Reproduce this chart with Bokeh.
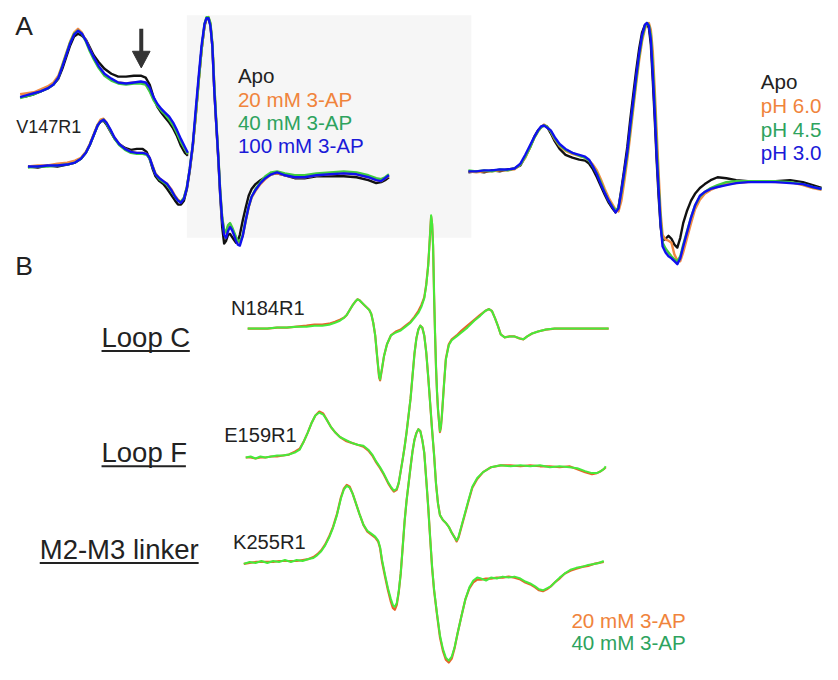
from bokeh.plotting import figure
from bokeh.models import Range1d
from bokeh.embed import file_html
from bokeh.resources import INLINE
from bokeh.core.properties import value

FONT = value("Liberation Sans")

# ---------------- Panel A, left: upper spectrum (unlabelled) ----------------
A1_x = [20, 27, 34, 41, 48, 54, 59, 63, 67, 71, 75, 79, 83, 87, 91, 95, 100, 106, 113, 120,
        128, 136, 143, 148, 152, 156, 160, 164, 168, 172, 176, 180, 184, 188, 191]
A1_black = [99, 98, 96, 93, 90, 86, 80, 70, 58, 46, 37, 34, 36, 40, 48, 56, 63, 70, 75, 78,
            78, 77, 77, 79, 86, 99, 109, 115, 120, 125, 131, 139, 149, 156, 159]
A1_orange = [96, 95, 94, 91, 88, 84, 77, 66, 54, 42, 33, 29, 33, 41, 50, 59, 68, 76, 81, 84,
             85, 84, 84, 86, 92, 101, 107, 112, 116, 121, 127, 135, 144, 152, 157]
A1_green = [100, 98, 96, 93, 90, 86, 79, 67, 55, 43, 34, 31, 34, 42, 52, 60, 69, 77, 82, 85,
            86, 85, 85, 86, 93, 102, 108, 113, 117, 122, 128, 136, 145, 152, 157]
A1_blue = [99, 97, 95, 93, 90, 86, 79, 68, 56, 44, 35, 31, 34, 41, 50, 58, 67, 75, 80, 84,
           85, 84, 83, 84, 89, 99, 106, 111, 115, 119, 125, 133, 142, 150, 156]

# ---------------- Panel A, left: V147R1 ----------------
A2_x = [28, 38, 48, 58, 68, 76, 82, 87, 91, 95, 99, 102, 105, 108, 112, 116, 121, 127, 133, 139,
        145, 149, 152, 155, 158, 162, 166, 170, 174, 178, 181, 184, 187, 190, 193, 196, 199, 202, 205, 208,
        210, 212, 214, 216, 218, 220, 222, 224, 226, 228, 230, 232, 234, 236, 238, 240, 242, 244, 247, 250,
        253, 256, 260, 265, 270, 276, 282, 290, 300, 310, 322, 336, 350, 363, 375, 383, 388, 392, 396]
A2_black = [170, 171, 169, 170, 168, 166, 162, 156, 148, 138, 128, 124, 123, 127, 134, 141, 147, 151, 153, 152,
            152, 155, 162, 172, 180, 185, 188, 193, 199, 205, 209, 209, 205, 193, 174, 150, 118, 82, 50, 26,
            19, 18, 25, 47, 93, 128, 162, 200, 232, 249, 246, 240, 239, 242, 245, 248, 246, 240, 225, 212,
            200, 193, 188, 184, 181, 178, 177, 179, 182, 182, 180, 180, 180, 181, 184, 187, 186, 184, 181]
A2_orange = [170, 169, 169, 167, 166, 164, 161, 155, 147, 137, 127, 122, 121, 125, 133, 140, 147, 152, 155, 156,
             156, 157, 161, 169, 177, 182, 185, 188, 193, 200, 204, 206, 202, 191, 173, 149, 119, 84, 51, 25,
             18, 17, 24, 45, 88, 126, 159, 196, 223, 236, 238, 231, 229, 233, 238, 243, 247, 248, 241, 226,
             212, 202, 195, 188, 183, 178, 177, 179, 181, 181, 179, 178, 177, 178, 181, 184, 185, 182, 180]
A2_green = [171, 170, 170, 169, 168, 166, 162, 156, 148, 138, 128, 124, 122, 126, 133, 141, 148, 153, 156, 157,
            157, 158, 162, 170, 178, 183, 186, 189, 195, 201, 205, 206, 202, 191, 172, 148, 117, 83, 50, 24,
            17, 17, 23, 44, 87, 124, 158, 195, 222, 235, 237, 230, 228, 232, 237, 242, 246, 247, 240, 225,
            211, 201, 193, 186, 180, 176, 175, 177, 179, 179, 177, 176, 175, 176, 179, 182, 183, 181, 178]
A2_blue = [170, 170, 169, 169, 168, 166, 162, 156, 148, 138, 128, 124, 122, 125, 132, 140, 147, 152, 155, 156,
           156, 157, 161, 170, 178, 182, 185, 188, 194, 201, 205, 207, 203, 192, 172, 148, 112, 78, 46, 24,
           18, 18, 26, 47, 93, 127, 160, 198, 225, 240, 243, 236, 232, 235, 240, 246, 250, 251, 241, 225,
           211, 201, 194, 187, 182, 178, 176, 179, 181, 181, 179, 178, 177, 178, 181, 184, 185, 182, 179]

# ---------------- Panel A, right: pH series ----------------
A3_x = [477, 485, 493, 501, 509, 517, 524, 530, 535, 540, 544, 548, 551, 554, 557, 561, 565, 570, 576, 583,
        590, 596, 600, 604, 608, 612, 616, 620, 624, 627, 630, 633, 636, 639, 642, 645, 648, 651, 654, 657,
        659, 661, 663, 665, 667, 669, 671, 673, 675, 678, 681, 684, 687, 690, 693, 696, 700, 704, 708, 713,
        718, 724, 731, 740, 750, 762, 775, 790, 805, 818, 828, 837]
A3_black = [176, 175, 176, 174, 175, 173, 172, 169, 160, 150, 140, 133, 130, 128, 129, 136, 144, 152, 158, 161,
            163, 164, 167, 173, 181, 190, 199, 207, 213, 217, 212, 193, 172, 150, 122, 97, 72, 50, 33, 25,
            24, 28, 45, 82, 122, 165, 202, 232, 246, 244, 241, 244, 250, 253, 243, 228, 215, 205, 198, 192,
            188, 184, 181, 182, 184, 185, 185, 185, 184, 186, 189, 192]
A3_orange = [175, 176, 175, 175, 174, 174, 173, 168, 161, 150, 141, 134, 130, 127, 129, 134, 142, 149, 154, 157,
             159, 161, 164, 168, 174, 183, 193, 202, 209, 214, 216, 205, 185, 163, 138, 112, 86, 62, 42, 29,
             24, 23, 30, 52, 92, 135, 178, 218, 240, 245, 246, 248, 260, 266, 267, 258, 243, 228, 214, 204,
             198, 194, 191, 188, 187, 186, 185, 186, 186, 189, 192, 194]
A3_green = [174, 175, 174, 175, 173, 174, 172, 168, 160, 150, 141, 134, 130, 128, 129, 134, 141, 148, 153, 156,
            159, 161, 164, 170, 177, 186, 196, 205, 211, 215, 212, 197, 178, 158, 132, 107, 82, 58, 39, 27,
            23, 25, 35, 65, 105, 150, 190, 225, 248, 254, 258, 262, 265, 267, 262, 250, 236, 222, 210, 201,
            196, 192, 189, 186, 185, 185, 185, 185, 186, 188, 191, 193]
A3_blue = [175, 175, 174, 174, 173, 173, 172, 167, 158, 148, 140, 133, 129, 128, 130, 133, 140, 147, 152, 156,
           158, 160, 163, 170, 178, 188, 197, 205, 212, 217, 213, 195, 175, 155, 128, 103, 78, 55, 36, 25,
           23, 26, 40, 75, 115, 160, 195, 230, 252, 258, 262, 264, 267, 270, 264, 252, 237, 222, 210, 200,
           196, 193, 191, 189, 187, 186, 186, 186, 187, 188, 191, 193]

# ---------------- Panel B: N184R1 (Loop C) ----------------
B1_x = [252, 262, 272, 282, 292, 302, 312, 320, 328, 335, 341, 346, 350, 353, 356, 359, 362, 364, 366, 368,
        371, 374, 376, 378, 380, 382, 384, 386, 387, 389, 391, 394, 398, 403, 408, 413, 418, 422, 426, 429,
        432, 434, 436, 437, 438, 439, 440, 441, 442, 443, 444, 445, 446, 447, 448, 449, 450, 452, 454, 457,
        460, 465, 470, 476, 483, 489, 494, 498, 501, 504, 507, 510, 514, 519, 524, 529, 533, 537, 542, 548,
        556, 565, 575, 590, 605, 620]
B1_green = [336, 336, 336, 335, 335, 334, 334, 333, 333, 332, 330, 328, 325, 322, 317, 312, 308, 306, 307, 309,
            312, 315, 317, 321, 330, 343, 365, 385, 388, 376, 364, 352, 343, 340, 338, 334, 330, 325, 320, 314,
            305, 292, 272, 255, 238, 220, 228, 250, 300, 340, 375, 400, 418, 430, 441, 436, 425, 395, 368, 353,
            348, 344, 340, 335, 328, 323, 318, 316, 318, 325, 333, 342, 345, 344, 344, 346, 347, 344, 341, 339,
            337, 336, 336, 336, 336, 336]
B1_orange = [336, 336, 336, 335, 335, 334, 333, 332, 332, 331, 329, 327, 325, 322, 317, 312, 308, 306, 307, 309,
             312, 315, 317, 321, 330, 343, 365, 386, 389, 377, 364, 352, 343, 339, 337, 333, 329, 324, 318, 312,
             304, 291, 271, 255, 238, 221, 229, 251, 301, 341, 376, 401, 419, 431, 442, 437, 425, 395, 367, 352,
             347, 343, 338, 333, 327, 322, 318, 316, 318, 325, 333, 342, 345, 344, 344, 346, 347, 344, 341, 339,
             337, 336, 336, 336, 336, 336]

# ---------------- Panel B: E159R1 (Loop F) ----------------
B2_x = [250, 255, 260, 265, 270, 276, 282, 288, 294, 300, 305, 309, 313, 317, 321, 325, 329, 333, 337, 341,
        346, 352, 358, 364, 370, 375, 379, 383, 387, 391, 395, 398, 401, 404, 406, 408, 410, 412, 414, 416,
        418, 420, 422, 424, 426, 428, 430, 432, 434, 436, 438, 440, 442, 444, 446, 448, 451, 454, 457, 460,
        463, 465, 467, 470, 473, 477, 481, 486, 492, 500, 510, 520, 530, 540, 550, 560, 570, 580, 588, 596,
        603, 608, 612, 615, 617]
B2_green = [468, 467, 469, 467, 468, 467, 466, 466, 465, 463, 460, 452, 443, 433, 425, 422, 424, 430, 437, 442,
            447, 450, 453, 455, 456, 460, 465, 472, 478, 485, 493, 498, 502, 500, 494, 482, 470, 457, 442, 425,
            408, 385, 362, 346, 337, 333, 335, 343, 360, 385, 412, 440, 465, 495, 515, 527, 532, 535, 539, 545,
            550, 553, 549, 538, 527, 512, 498, 489, 483, 478, 476, 477, 476, 477, 476, 478, 477, 478, 479, 482,
            484, 484, 482, 480, 477]
B2_orange = [468, 468, 469, 468, 468, 467, 467, 466, 465, 462, 459, 452, 443, 433, 425, 421, 423, 430, 437, 442,
             447, 451, 453, 455, 457, 461, 466, 473, 479, 486, 494, 499, 503, 501, 494, 482, 470, 457, 442, 425,
             408, 385, 362, 346, 337, 333, 335, 343, 360, 385, 412, 440, 465, 495, 515, 527, 532, 535, 539, 545,
             550, 554, 550, 539, 528, 513, 499, 490, 483, 478, 476, 476, 477, 476, 477, 477, 478, 477, 480, 483,
             485, 484, 482, 480, 478]

# ---------------- Panel B: K255R1 (M2-M3 linker) ----------------
B3_x = [248, 254, 260, 266, 272, 278, 284, 290, 296, 302, 308, 314, 319, 323, 327, 331, 335, 339, 343, 347,
        350, 353, 356, 359, 362, 366, 370, 374, 378, 382, 385, 387, 389, 392, 395, 398, 400, 402, 404, 406,
        408, 410, 412, 414, 416, 418, 420, 422, 424, 426, 428, 430, 432, 434, 436, 438, 440, 442, 445, 448,
        451, 454, 457, 460, 463, 466, 470, 474, 478, 482, 486, 490, 495, 500, 506, 512, 518, 524, 530, 535,
        540, 545, 549, 553, 557, 561, 565, 570, 575, 581, 587, 593, 599, 605, 610, 615]
B3_green = [577, 575, 576, 574, 576, 574, 575, 573, 575, 573, 574, 572, 571, 568, 564, 558, 550, 540, 527, 510,
            501, 497, 499, 505, 514, 526, 537, 543, 546, 549, 553, 560, 573, 588, 602, 613, 619, 621, 617, 605,
            587, 560, 533, 512, 495, 478, 462, 450, 443, 439, 441, 450, 463, 490, 518, 550, 580, 603, 628, 650,
            664, 673, 676, 672, 662, 648, 630, 613, 601, 594, 591, 592, 594, 591, 592, 590, 591, 590, 592, 595,
            597, 600, 603, 604, 602, 600, 596, 591, 587, 583, 581, 580, 578, 577, 576, 574]
B3_orange = [577, 576, 575, 575, 575, 575, 574, 574, 574, 574, 573, 572, 570, 567, 563, 557, 549, 539, 526, 509,
             500, 496, 498, 505, 514, 526, 537, 544, 547, 550, 554, 561, 575, 590, 604, 616, 622, 624, 619, 606,
             587, 560, 533, 512, 495, 478, 462, 450, 443, 439, 441, 450, 463, 490, 518, 550, 581, 604, 629, 652,
             666, 675, 678, 674, 663, 648, 630, 613, 602, 596, 593, 593, 592, 592, 591, 591, 590, 591, 593, 596,
             598, 601, 604, 605, 603, 600, 596, 592, 587, 584, 582, 580, 579, 577, 576, 575]

# ---------------- Texts ----------------
legend_A_left = ["Apo", "20 mM 3-AP", "40 mM 3-AP", "100 mM 3-AP"]
legend_A_right = ["Apo", "pH 6.0", "pH 4.5", "pH 3.0"]
legend_B = ["20 mM 3-AP", "40 mM 3-AP"]
site_labels = ["N184R1", "E159R1", "K255R1"]
region_labels = ["Loop C", "Loop F", "M2-M3 linker"]

# colours
C_BLACK = "#111111"
C_ORANGE = "#f08a44"
C_GREEN = "#3fcc3f"
C_BLUE = "#1010ee"
T_ORANGE = "#f0843c"
T_GREEN = "#2ea35e"
T_BLUE = "#1a1ad8"
B_ORANGE = "#e8622a"
B_GREEN = "#46ea3a"
TXT = "#222222"

W, H = 822, 664
REF_W, REF_H = 838, 680
S = W / REF_W  # screen px per reference px

p = figure(width=W, height=H, x_range=Range1d(0, REF_W), y_range=Range1d(REF_H, 0),
           output_backend="svg", toolbar_location=None, min_border=0,
           x_axis_location=None, y_axis_location=None)
p.grid.visible = False
p.outline_line_color = None
p.background_fill_color = "white"
p.border_fill_color = "white"


def fs(px):
    return f"{px * S:.1f}px"


def txt(xs, baselines, texts, size, color):
    # place text so that the bottom of the capitals sits on the given baseline
    ys = [b - 0.4 * size for b in baselines]
    p.text(x=xs, y=ys, text=texts, text_font=FONT, text_font_size=fs(size),
           text_color=color, text_baseline="alphabetic")


# grey inset box
p.quad(left=[190], right=[480], top=[15], bottom=[243], fill_color="#f6f6f6", line_color=None)

# Panel A left
for ys, c in [(A1_black, C_BLACK), (A1_orange, C_ORANGE), (A1_green, C_GREEN), (A1_blue, C_BLUE)]:
    p.line(A1_x, ys, line_color=c, line_width=2.4, line_join="round")
for ys, c in [(A2_black, C_BLACK), (A2_orange, C_ORANGE), (A2_green, C_GREEN), (A2_blue, C_BLUE)]:
    p.line(A2_x, ys, line_color=c, line_width=2.4, line_join="round")
# Panel A right
for ys, c in [(A3_black, C_BLACK), (A3_orange, C_ORANGE), (A3_green, C_GREEN), (A3_blue, C_BLUE)]:
    p.line(A3_x, ys, line_color=c, line_width=2.4, line_join="round")

# Panel B
for xs, yo, yg in [(B1_x, B1_orange, B1_green), (B2_x, B2_orange, B2_green), (B3_x, B3_orange, B3_green)]:
    p.line(xs, yo, line_color=B_ORANGE, line_width=2.2, line_join="round")
    p.line(xs, yg, line_color=B_GREEN, line_width=2.0, line_join="round")

# arrow
p.segment(x0=[143.5], y0=[29], x1=[143.5], y1=[54], line_color="#333333", line_width=4)
p.patch(x=[134.5, 152.5, 143.5], y=[52, 52, 69], fill_color="#333333", line_color="#333333")

# panel letters and labels
txt([15, 15], [37, 283], ["A", "B"], 27, TXT)
txt([16], [137], ["V147R1"], 18.3, TXT)
txt([242] * 4, [85, 110, 133, 157], legend_A_left, 21, [TXT, T_ORANGE, T_GREEN, T_BLUE])
txt([775] * 4, [91, 116, 140, 164], legend_A_right, 21, [TXT, T_ORANGE, T_GREEN, T_BLUE])
txt([235, 228, 237], [323, 453, 563], site_labels, 20.5, TXT)
txt([103, 103, 40], [356, 474, 573], region_labels, 28, TXT)
p.segment(x0=[103, 103, 40], y0=[359, 477, 576], x1=[193, 189, 202], y1=[359, 477, 576],
          line_color=TXT, line_width=2)
txt([582, 582], [643, 666], legend_B, 21, [T_ORANGE, T_GREEN])

open("out.html", "w").write(file_html(p, INLINE))
